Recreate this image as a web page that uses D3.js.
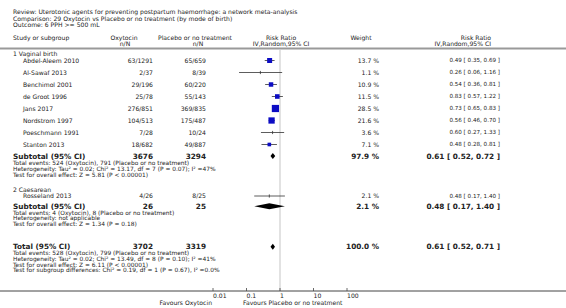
<!DOCTYPE html>
<html>
<head>
<meta charset="utf-8">
<script src="https://cdn.jsdelivr.net/npm/d3@7"></script>
<style>
  body { margin: 0; background: #fff; }
  svg text { font-family: "DejaVu Sans", Verdana, sans-serif; fill: #222; }
</style>
</head>
<body>
<div id="chart"></div>
<script>
// study level data
const studies = ["Abdel-Aleem 2010", "Al-Sawaf 2013", "Benchimol 2001", "de Groot 1996",
  "Jans 2017", "Nordstrom 1997", "Poeschmann 1991", "Stanton 2013", "Rosseland 2013"];
const studyGroup = [1, 1, 1, 1, 1, 1, 1, 1, 2];
const oxyEvents = [63, 2, 29, 25, 276, 104, 7, 18, 4];
const oxyTotal = [1291, 37, 196, 78, 851, 513, 28, 682, 26];
const plcEvents = [65, 8, 60, 55, 369, 175, 10, 49, 8];
const plcTotal = [659, 39, 220, 143, 835, 487, 24, 887, 25];
const weights = [13.7, 1.1, 10.9, 11.5, 28.5, 21.6, 3.6, 7.1, 2.1];
const rr = [0.49, 0.26, 0.54, 0.83, 0.73, 0.56, 0.60, 0.48, 0.48];
const rrLo = [0.35, 0.06, 0.36, 0.57, 0.65, 0.46, 0.27, 0.28, 0.17];
const rrHi = [0.69, 1.16, 0.81, 1.22, 0.83, 0.70, 1.33, 0.81, 1.40];

// subgroup and overall pooled results
const groupNames = ["1 Vaginal birth", "2 Caesarean"];
const pooledLabels = ["Subtotal (95% CI)", "Subtotal (95% CI)", "Total (95% CI)"];
const pooledOxy = [3676, 26, 3702];
const pooledPlc = [3294, 25, 3319];
const pooledWeight = ["97.9 %", "2.1 %", "100.0 %"];
const pooledRR = [0.61, 0.48, 0.61];
const pooledLo = [0.52, 0.17, 0.52];
const pooledHi = [0.72, 1.40, 0.71];
const pooledNotes = [
  ["Total events: 524 (Oxytocin), 791 (Placebo or no treatment)",
   "Heterogeneity: Tau\u00b2 = 0.02; Chi\u00b2 = 13.17, df = 7 (P = 0.07); I\u00b2 =47%",
   "Test for overall effect: Z = 5.81 (P < 0.00001)"],
  ["Total events: 4 (Oxytocin), 8 (Placebo or no treatment)",
   "Heterogeneity: not applicable",
   "Test for overall effect: Z = 1.34 (P = 0.18)"],
  ["Total events: 528 (Oxytocin), 799 (Placebo or no treatment)",
   "Heterogeneity: Tau\u00b2 = 0.02; Chi\u00b2 = 13.49, df = 8 (P = 0.10); I\u00b2 =41%",
   "Test for overall effect: Z = 6.11 (P < 0.00001)",
   "Test for subgroup differences: Chi\u00b2 = 0.19, df = 1 (P = 0.67), I\u00b2 =0.0%"]
];

const titleLines = [
  "Review:  Uterotonic agents for preventing postpartum haemorrhage: a network meta-analysis",
  "Comparison:  29 Oxytocin vs Placebo or no treatment (by mode of birth)",
  "Outcome:  6 PPH >= 500 mL"
];
const tickValues = [0.01, 0.1, 1, 10, 100];
const tickLabels = ["0.01", "0.1", "1", "10", "100"];
const favoursLeft = "Favours Oxytocin";
const favoursRight = "Favours Placebo or no treatment";

const W = 566, H = 308;
const fs = 6.1, fsBold = 7.3, fsNote = 5.9;

const svg = d3.select("#chart").append("svg")
  .attr("width", W).attr("height", H);

const x = d3.scaleLog().domain([0.01, 100]).range([213, 347]);

// column anchors
const col = { name: 13, study: 23, oxy: 153, plc: 206, weight: 379, ci: 500 };

const txt = (t, xp, yp, anchor, bold, size) =>
  svg.append("text")
    .attr("x", xp).attr("y", yp).attr("dy", "0.35em")
    .attr("text-anchor", anchor || "start")
    .style("font-size", (size || (bold ? fsBold : fs)) + "px")
    .style("font-weight", bold ? "bold" : "normal")
    .text(t);

const fmt = d3.format(".2f");
const ciText = (m, l, h) => `${fmt(m)} [ ${fmt(l)}, ${fmt(h)} ]`;

// title block
titleLines.forEach((t, i) => txt(t, col.name, 12 + i * 6.4));

// headers
txt("Study or subgroup", col.name, 37.5);
txt("Oxytocin", 124, 37.5, "middle");
txt("n/N", 125, 43.5, "middle");
txt("Placebo or no treatment", 195, 37.5, "middle");
txt("n/N", 198, 43.5, "middle");
txt("Risk Ratio", 281, 37.5, "middle");
txt("IV,Random,95% CI", 281, 43.5, "middle");
txt("Weight", 361, 37.5, "middle");
txt("Risk Ratio", 491, 37.5, "end");
txt("IV,Random,95% CI", 491, 43.5, "end");

svg.append("line")
  .attr("x1", 0).attr("x2", W).attr("y1", 48.5).attr("y2", 48.5)
  .attr("stroke", "#999").attr("stroke-width", 2);

// line of no effect
svg.append("line")
  .attr("x1", x(1)).attr("x2", x(1)).attr("y1", 50).attr("y2", 291)
  .attr("stroke", "#e2e2e2").attr("stroke-width", 2);

// y positions
const groupY = [53.5, 189.5];
const studyY = [60.5, 72.5, 84.5, 96.5, 108.5, 120.5, 132.5, 144.5, 196];
const pooledY = [156, 206.2, 246.8];
const noteStart = [163, 212.6, 253];
const noteStep = [6.2, 5.7, 5.8];

groupNames.forEach((g, i) => txt(g, col.name, groupY[i]));

studies.forEach((s, i) => {
  const y = studyY[i];
  txt(s, col.study, y);
  txt(`${oxyEvents[i]}/${oxyTotal[i]}`, col.oxy, y, "end");
  txt(`${plcEvents[i]}/${plcTotal[i]}`, col.plc, y, "end");
  txt(weights[i].toFixed(1) + " %", col.weight, y, "end");
  txt(ciText(rr[i], rrLo[i], rrHi[i]), col.ci, y, "end", false, 5.6);

  svg.append("line")
    .attr("x1", x(rrLo[i])).attr("x2", x(rrHi[i]))
    .attr("y1", y).attr("y2", y)
    .attr("stroke", "#333").attr("stroke-width", 0.8);
  svg.append("line")
    .attr("x1", x(rr[i])).attr("x2", x(rr[i]))
    .attr("y1", y - 1.6).attr("y2", y + 1.6)
    .attr("stroke", "#333").attr("stroke-width", 0.8);
  const side = 1.35 * Math.sqrt(weights[i]);
  if (weights[i] > 5) {
    svg.append("rect")
      .attr("x", x(rr[i]) - side / 2).attr("y", y - side / 2)
      .attr("width", side).attr("height", side)
      .attr("fill", "#0c0cc4");
  }
});

pooledLabels.forEach((p, i) => {
  const y = pooledY[i];
  txt(p, col.name, y, "start", true);
  txt(pooledOxy[i], col.oxy, y, "end", true);
  txt(pooledPlc[i], col.plc, y, "end", true);
  txt(pooledWeight[i], col.weight, y, "end", true);
  txt(ciText(pooledRR[i], pooledLo[i], pooledHi[i]), col.ci, y, "end", true);

  const hh = 3;
  const pts = [[x(pooledLo[i]), y], [x(pooledRR[i]), y - hh],
    [x(pooledHi[i]), y], [x(pooledRR[i]), y + hh]];
  svg.append("path")
    .attr("d", d3.line()(pts) + "Z")
    .attr("fill", "#000");

  pooledNotes[i].forEach((n, j) =>
    txt(n, col.name, noteStart[i] + j * noteStep[i], "start", false, fsNote));
});

// bottom axis
svg.append("line")
  .attr("x1", 0).attr("x2", W).attr("y1", 291).attr("y2", 291)
  .attr("stroke", "#444").attr("stroke-width", 1);
tickValues.forEach((t, i) => {
  svg.append("line")
    .attr("x1", x(t)).attr("x2", x(t)).attr("y1", 288).attr("y2", 291)
    .attr("stroke", "#444").attr("stroke-width", 0.8);
  txt(tickLabels[i], x(t), 296);
});
txt(favoursLeft, 212, 303, "end");
txt(favoursRight, 243, 303, "start");
</script>
</body>
</html>
